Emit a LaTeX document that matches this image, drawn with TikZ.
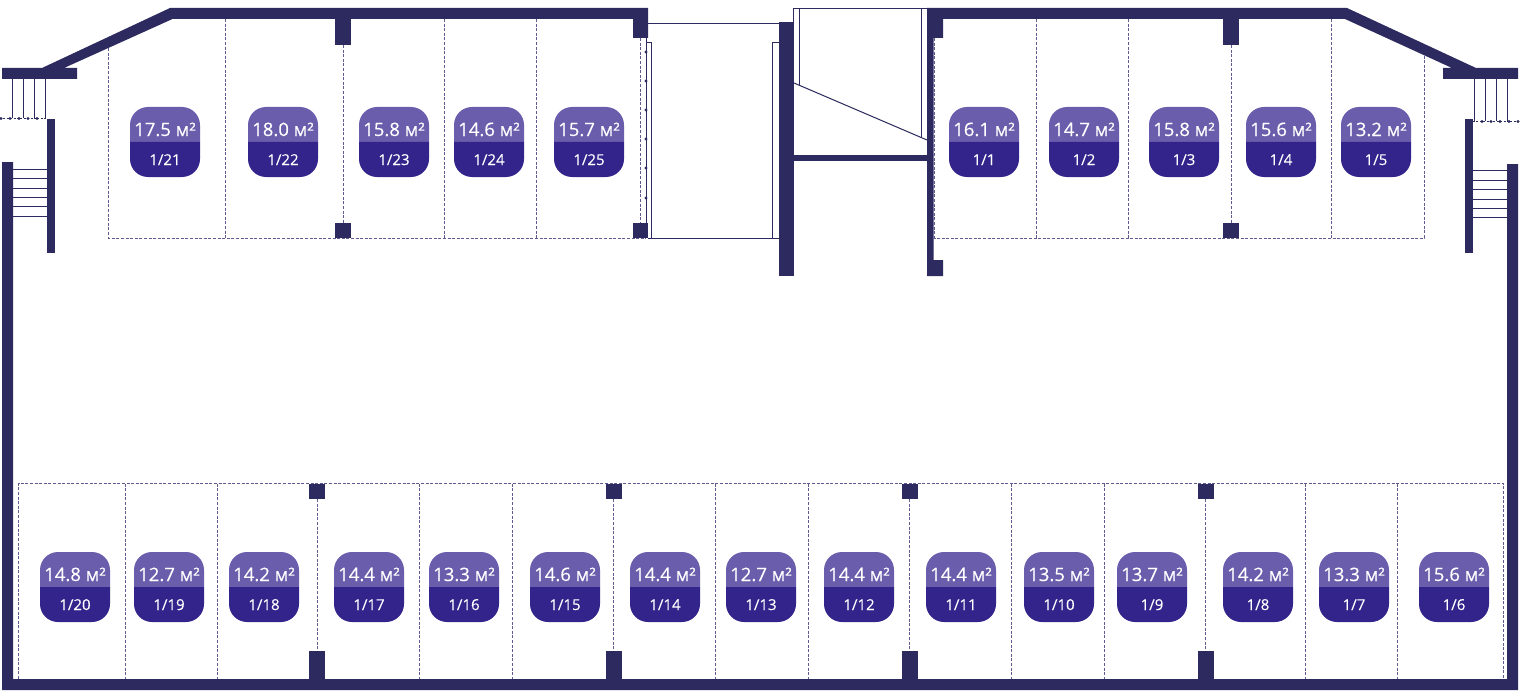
\documentclass[tikz,border=0pt]{standalone}
\usepackage{fontspec}
\setmainfont{Open Sans}[FakeBold=0.35]
\newfontfamily\numfont{Open Sans}[FakeBold=0.1]
\definecolor{wallcol}{HTML}{2C2A5E}
\definecolor{badgetop}{HTML}{6A5EAC}
\definecolor{badgelow}{HTML}{33248C}
\definecolor{dashcol}{HTML}{5F5A90}
\tikzset{
	wall/.style={fill=wallcol, draw=none},
	thin line/.style={draw=wallcol, line width=1pt},
	lot line/.style={draw=dashcol, line width=1pt, dash pattern=on 3pt off 1.6pt},
	dot line/.style={draw=wallcol, line width=0.9pt, dash pattern=on 2pt off 1.4pt},
	pin/.style={fill=wallcol, circle, inner sep=0pt, minimum size=3.2pt},
	area text/.style={text=white, font=\fontsize{18.5}{19}\selectfont, inner sep=0pt, anchor=base},
	num text/.style={text=white, font=\numfont\fontsize{15}{16}\selectfont, inner sep=0pt, anchor=base},
}
% name, centre x, top y, area, number
\newcommand{\lotbadge}[5]{
	\fill[badgetop] (#2-35, #3+35) -- (#2-35, #3+18) [rounded corners=18pt] -- (#2-35, #3) -- (#2+35, #3) [sharp corners] -- (#2+35, #3+35) -- cycle;
	\fill[badgelow] (#2-35, #3+35) -- (#2-35, #3+52) [rounded corners=18pt] -- (#2-35, #3+70) -- (#2+35, #3+70) [sharp corners] -- (#2+35, #3+35) -- cycle;
	\node[area text] (area_#1) at (#2, #3+29) {#4};
	\node[num text] (num_#1) at (#2, #3+58) {#5};
}
\begin{document}
\begin{tikzpicture}[x=1pt, y=-1pt]
	\useasboundingbox (0, 0) rectangle (1520, 698);
	% dashed lots, top left
	\draw[lot line] (108.5, 48) -- (108.5, 238) -- (646, 238);
	\draw[lot line] (225, 19) -- (225, 238);
	\draw[lot line] (343, 45) -- (343, 223);
	\draw[lot line] (444.5, 19) -- (444.5, 238);
	\draw[lot line] (536.5, 19) -- (536.5, 238);
	\draw[lot line] (640, 38) -- (640, 223);
	% dashed lots, top right
	\draw[lot line] (934.5, 38) -- (934.5, 238) -- (1424.5, 238) -- (1424.5, 55);
	\draw[lot line] (1036.5, 19) -- (1036.5, 238);
	\draw[lot line] (1128.5, 19) -- (1128.5, 238);
	\draw[lot line] (1231, 45) -- (1231, 223);
	\draw[lot line] (1331.5, 19) -- (1331.5, 238);
	% dashed lots, bottom
	\draw[lot line] (18.5, 679) -- (18.5, 483.5) -- (1503.7, 483.5) -- (1503.7, 679);
	\foreach \lotx in {125, 217.3, 419.5, 512.5, 715.5, 808.5, 1011.5, 1104.5, 1305.5, 1397.7} {
		\draw[lot line] (\lotx, 483.5) -- (\lotx, 679);
	}
	\foreach \lotx in {317.5, 613.7, 909.7, 1205.7} {
		\draw[lot line] (\lotx, 499) -- (\lotx, 651);
	}
	% lift and stairs in the middle
	\draw[thin line] (648, 23.5) -- (779, 23.5);
	\draw[thin line] (646, 42.5) -- (651, 42.5) -- (651, 238);
	\draw[thin line] (646, 38) -- (646, 238);
	\draw[thin line] (648, 238) -- (779, 238);
	\draw[thin line] (779, 42.5) -- (772, 42.5) -- (772, 238);
	\foreach \piny in {52, 81, 110, 139, 168, 198} {
		\node[pin] (pin_\piny) at (646, \piny) {};
	}
	\draw[thin line] (793.5, 22) -- (793.5, 8.5) -- (927, 8.5);
	\draw[thin line] (799.5, 8.5) -- (799.5, 85);
	\draw[thin line] (921.5, 8.5) -- (921.5, 138);
	\draw[thin line] (794, 83) -- (927, 140);
	% stairs, left
	\foreach \stepx in {12.3, 23.7, 34.7, 45.3} {
		\draw[thin line] (\stepx, 79) -- (\stepx, 118.5);
	}
	\draw[dot line] (0, 118.5) -- (46, 118.5);
	\foreach \pinx in {1, 10, 19, 28, 37} {
		\node[pin] (pin_l\pinx) at (\pinx, 118.5) {};
	}
	\foreach \stepy in {169.5, 178.7, 188.3, 197.3, 206.7, 216} {
		\draw[thin line] (13, \stepy) -- (47, \stepy);
	}
	% stairs, right
	\foreach \stepx in {1474.3, 1485.3, 1496.3, 1507.7} {
		\draw[thin line] (\stepx, 79) -- (\stepx, 121);
	}
	\draw[dot line] (1473, 121.5) -- (1520, 121.5);
	\foreach \pinx in {1482, 1491, 1500, 1509, 1518} {
		\node[pin] (pin_r\pinx) at (\pinx, 121.5) {};
	}
	\foreach \stepy in {170.7, 180, 189.3, 199, 208.3, 217.3} {
		\draw[thin line] (1473, \stepy) -- (1507, \stepy);
	}
	% walls
	\fill[wall] (2, 68) -- (42, 68) -- (170, 8) -- (648, 8) -- (648, 38) -- (633, 38) -- (633, 19) -- (172.5, 19) -- (64, 68) -- (77, 68) -- (77, 79) -- (2, 79) -- cycle;
	\fill[wall] (1518, 68) -- (1476, 68) -- (1347, 8) -- (927, 8) -- (927, 276) -- (943, 276) -- (943, 260) -- (933.5, 260) -- (933.5, 38) -- (943, 38) -- (943, 19) -- (1345, 19) -- (1452, 68) -- (1443, 68) -- (1443, 79) -- (1518, 79) -- cycle;
	\fill[wall] (46.7, 119) rectangle (55, 253);
	\fill[wall] (1465, 119) rectangle (1473.3, 253);
	\fill[wall] (2, 162) -- (13, 162) -- (13, 679) -- (1507, 679) -- (1507, 164) -- (1518, 164) -- (1518, 690) -- (2, 690) -- cycle;
	\fill[wall] (779, 22) rectangle (794, 276);
	\fill[wall] (794, 154.5) rectangle (927, 160.5);
	\fill[wall] (633, 223) rectangle (648, 238);
	\foreach \pilx in {343, 1231} {
		\fill[wall] (\pilx-8, 19) rectangle (\pilx+8, 45);
		\fill[wall] (\pilx-8, 223) rectangle (\pilx+8, 238);
	}
	\foreach \pilx in {317.3, 613.7, 909.7, 1205.7} {
		\fill[wall] (\pilx-8, 484) rectangle (\pilx+8, 499);
		\fill[wall] (\pilx-8, 651) rectangle (\pilx+8, 679);
	}
	% badges
	\lotbadge{21}{165}{107}{17.5 м²}{1/21}
	\lotbadge{22}{283}{107}{18.0 м²}{1/22}
	\lotbadge{23}{394}{107}{15.8 м²}{1/23}
	\lotbadge{24}{489}{107}{14.6 м²}{1/24}
	\lotbadge{25}{589}{107}{15.7 м²}{1/25}
	\lotbadge{1}{984}{107}{16.1 м²}{1/1}
	\lotbadge{2}{1084}{107}{14.7 м²}{1/2}
	\lotbadge{3}{1184}{107}{15.8 м²}{1/3}
	\lotbadge{4}{1281}{107}{15.6 м²}{1/4}
	\lotbadge{5}{1376}{107}{13.2 м²}{1/5}
	\lotbadge{20}{75}{552}{14.8 м²}{1/20}
	\lotbadge{19}{169}{552}{12.7 м²}{1/19}
	\lotbadge{18}{264}{552}{14.2 м²}{1/18}
	\lotbadge{17}{369}{552}{14.4 м²}{1/17}
	\lotbadge{16}{464}{552}{13.3 м²}{1/16}
	\lotbadge{15}{565}{552}{14.6 м²}{1/15}
	\lotbadge{14}{665}{552}{14.4 м²}{1/14}
	\lotbadge{13}{761}{552}{12.7 м²}{1/13}
	\lotbadge{12}{859}{552}{14.4 м²}{1/12}
	\lotbadge{11}{961}{552}{14.4 м²}{1/11}
	\lotbadge{10}{1059}{552}{13.5 м²}{1/10}
	\lotbadge{9}{1152}{552}{13.7 м²}{1/9}
	\lotbadge{8}{1258}{552}{14.2 м²}{1/8}
	\lotbadge{7}{1354}{552}{13.3 м²}{1/7}
	\lotbadge{6}{1454}{552}{15.6 м²}{1/6}
\end{tikzpicture}
\end{document}
